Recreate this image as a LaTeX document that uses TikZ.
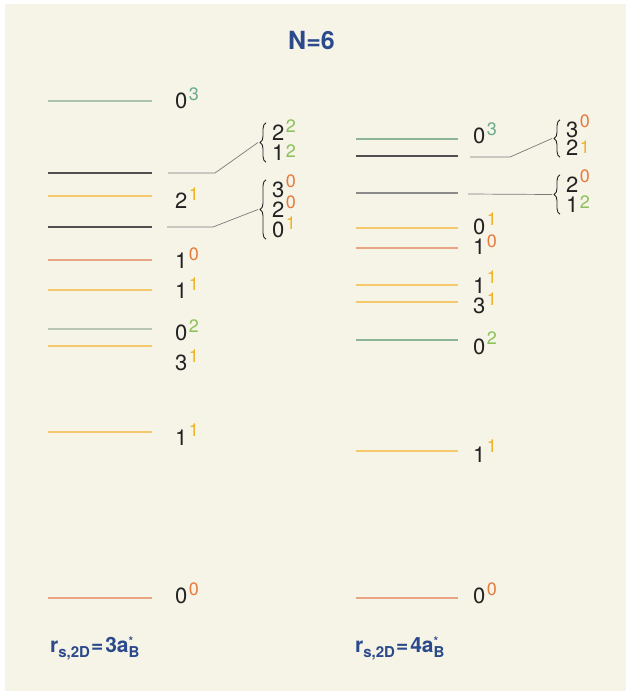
\documentclass[tikz,border=0pt]{standalone}
\usepackage{fontspec}
\setmainfont{TeX Gyre Heros}
\usetikzlibrary{calc,decorations.pathreplacing}

\definecolor{cBack}{HTML}{F6F3E7}
\definecolor{cBlue}{HTML}{2B4A8C}
\definecolor{cDig}{HTML}{222222}
\definecolor{cTeal}{HTML}{6BAA8C}
\definecolor{cGreen}{HTML}{8BC15A}
\definecolor{cOrange}{HTML}{E57A3C}
\definecolor{cYellow}{HTML}{F0B429}
\definecolor{lGrnGrey}{HTML}{A9C2AD}
\definecolor{lGrn}{HTML}{8DB595}
\definecolor{lPale}{HTML}{B9C6B5}
\definecolor{lDark}{HTML}{505050}
\definecolor{lGrey}{HTML}{8A8A8A}
\definecolor{lYellow}{HTML}{F5C86E}
\definecolor{lOrange}{HTML}{E9A583}
\definecolor{cConn}{HTML}{7A7A7A}

% digit with a coloured upper index
\newcommand{\lv}[4][8]{#2\kern1.5pt\raisebox{#1pt}{\fontsize{18}{18}\selectfont\color{#4}#3}}
\newcommand{\rsub}[1]{\raisebox{-5pt}{\fontsize{15}{15}\selectfont #1}}

\tikzset{
  lev/.style={line width=1.4pt},
  conn/.style={line width=0.7pt,draw=cConn},
  lab/.style={anchor=base west,inner sep=0pt,text height=15pt,text depth=0pt,
    font=\fontsize{22}{22}\selectfont,text=cDig},
  brc/.style={decorate,decoration={brace,amplitude=6pt},line width=0.9pt,draw=cDig},
  ttl/.style={anchor=base west,inner sep=0pt,text=cBlue,font=\bfseries\fontsize{21}{21}\selectfont},
}

\begin{document}
\begin{tikzpicture}[x=1pt,y=-1pt]
\useasboundingbox (0,0) rectangle (626,691);
\fill[white] (0,0) rectangle (626,691);
\fill[cBack] (5,4) rectangle (626,691);

\node[ttl,font=\bfseries\fontsize{25}{25}\selectfont] (title) at (288,49) {N=6};

% left column
\draw[lev,lGrnGrey] (48,101) -- (152,101);
\draw[lev,lDark] (48,173) -- (152,173);
\draw[lev,lYellow] (48,196) -- (152,196);
\draw[lev,lDark] (48,227) -- (152,227);
\draw[lev,lOrange] (48,260) -- (152,260);
\draw[lev,lYellow] (48,290) -- (152,290);
\draw[lev,lPale] (48,329) -- (152,329);
\draw[lev,lYellow] (48,346) -- (152,346);
\draw[lev,lYellow] (48,432) -- (152,432);
\draw[lev,lOrange] (48,598) -- (152,598);

\node[lab] (L03) at (175,108) {\lv{0}{3}{cTeal}};
\node[lab] (L21) at (175,208) {\lv{2}{1}{cYellow}};
\node[lab] (L10) at (175,268) {\lv{1}{0}{cOrange}};
\node[lab] (L11) at (175,298) {\lv{1}{1}{cYellow}};
\node[lab] (L02) at (175,340) {\lv{0}{2}{cGreen}};
\node[lab] (L31) at (175,370) {\lv{3}{1}{cYellow}};
\node[lab] (L11b) at (175,445) {\lv[9]{1}{1}{cYellow}};
\node[lab] (L00) at (175,603) {\lv{0}{0}{cOrange}};

\node[lab] (gA1) at (272,140) {\lv{2}{2}{cGreen}};
\node[lab] (gA2) at (272,160) {\lv[3]{1}{2}{cGreen}};
\draw[brc] ($(gA2.south west)+(-6,2)$) -- ($(gA1.north west)+(-6,-2)$);
\coordinate (tA) at ($(gA1.north west)!0.5!(gA2.south west)+(-14,0)$);
\coordinate (sA) at (168,173);
\draw[conn] (sA) -- ++(47,0) -- (tA);

\node[lab] (gB1) at (272,197) {\lv[10]{3}{0}{cOrange}};
\node[lab] (gB2) at (272,217) {\lv[9]{2}{0}{cOrange}};
\node[lab] (gB3) at (272,237) {\lv{0}{1}{cYellow}};
\draw[brc] ($(gB3.south west)+(-6,2)$) -- ($(gB1.north west)+(-6,-2)$);
\coordinate (tB) at ($(gB1.north west)!0.5!(gB3.south west)+(-14,0)$);
\coordinate (sB) at (167,227);
\draw[conn] (sB) -- ++(46,0) -- (tB);

\node[ttl] (rsL) at (50,652) {r\rsub{s,2D}\kern1pt=\kern2pt3a\rlap{\rsub{B}}\raisebox{7pt}{\fontsize{12}{12}\selectfont *}\kern4pt};

% right column
\draw[lev,lGrn] (356,139) -- (458,139);
\draw[lev,lDark] (356,156) -- (458,156);
\draw[lev,lGrey] (356,193) -- (458,193);
\draw[lev,lYellow] (356,228) -- (458,228);
\draw[lev,lOrange] (356,248) -- (458,248);
\draw[lev,lYellow] (356,285) -- (458,285);
\draw[lev,lYellow] (356,302) -- (458,302);
\draw[lev,lGrn] (356,340) -- (458,340);
\draw[lev,lYellow] (356,451) -- (458,451);
\draw[lev,lOrange] (356,598) -- (458,598);

\node[lab] (R03) at (473,143) {\lv{0}{3}{cTeal}};
\node[lab] (R01) at (473,234) {\lv[9]{0}{1}{cYellow}};
\node[lab] (R10) at (473,254) {\lv[7]{1}{0}{cOrange}};
\node[lab] (R11) at (473,293) {\lv[10]{1}{1}{cYellow}};
\node[lab] (R31) at (473,313) {\lv{3}{1}{cYellow}};
\node[lab] (R02) at (473,354) {\lv[10]{0}{2}{cGreen}};
\node[lab] (R11b) at (473,462) {\lv[10]{1}{1}{cYellow}};
\node[lab] (R00) at (473,603) {\lv{0}{0}{cOrange}};

\node[lab] (gC1) at (566,137) {\lv[10]{3}{0}{cOrange}};
\node[lab] (gC2) at (566,155) {\lv[2]{2}{1}{cYellow}};
\draw[brc] ($(gC2.south west)+(-6,2)$) -- ($(gC1.north west)+(-6,-2)$);
\coordinate (tC) at ($(gC1.north west)!0.5!(gC2.south west)+(-14,0)$);
\coordinate (sC) at (470,157);
\draw[conn] (sC) -- ++(40,0) -- (tC);

\node[lab] (gD1) at (566,192) {\lv[10]{2}{0}{cOrange}};
\node[lab] (gD2) at (566,212) {\lv[4]{1}{2}{cGreen}};
\draw[brc] ($(gD2.south west)+(-6,2)$) -- ($(gD1.north west)+(-6,-2)$);
\coordinate (tD) at ($(gD1.north west)!0.5!(gD2.south west)+(-14,0)$);
\coordinate (sD) at (468,194);
\draw[conn] (sD) -- (tD);

\node[ttl] (rsR) at (355,652) {r\rsub{s,2D}\kern1pt=\kern2pt4a\rlap{\rsub{B}}\raisebox{7pt}{\fontsize{12}{12}\selectfont *}\kern4pt};
\end{tikzpicture}
\end{document}
